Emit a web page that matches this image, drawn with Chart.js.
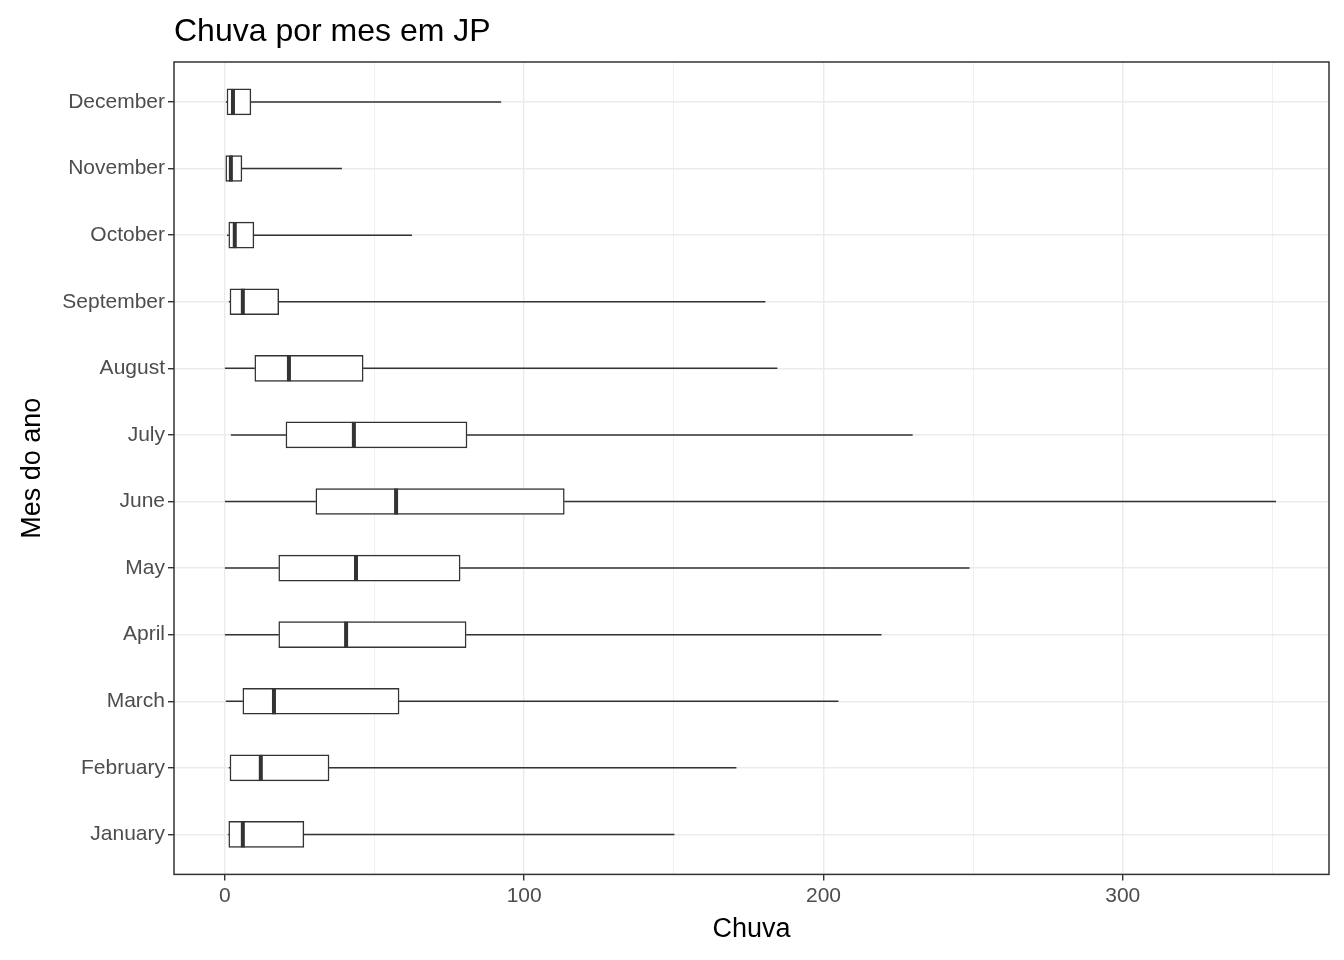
<!DOCTYPE html>
<html><head><meta charset="utf-8">
<script src="https://cdn.jsdelivr.net/npm/chart.js@4"></script>
<style>html,body{margin:0;background:#fff}#wrap{width:1344px;height:960px}</style>
</head><body><div id="wrap"><canvas id="c"></canvas></div>
<script>
// meses de baixo para cima (January embaixo)
const months = ['January','February','March','April','May','June','July','August','September','October','November','December'];
const mins    = [1, 1.3, 0.3, 0, 0, 0, 2, 0, 1.3, 0.7, 0.3, 0.3];
const q1s     = [1.3, 1.7, 6, 18, 18, 30.4, 20.4, 10, 1.7, 1.3, 0.3, 0.7];
const medians = [6, 12, 16.4, 40.5, 43.8, 57.2, 43.1, 21.4, 6, 3.3, 2, 2.7];
const q3s     = [26.4, 34.8, 58.2, 80.6, 78.6, 113.4, 80.9, 46.2, 18, 9.7, 5.7, 8.7];
const maxs    = [150.2, 170.9, 205, 219.4, 248.8, 351.2, 229.8, 184.6, 180.6, 62.5, 39.1, 92.3];
const chartTitle = 'Chuva por mes em JP';

const dark = '#333333';

const boxPlugin = {
  id: 'boxExtras',
  afterDatasetsDraw(chart) {
    const {ctx, scales: {x, y}, chartArea: a} = chart;
    ctx.save();
    ctx.strokeStyle = dark;
    months.forEach((m, i) => {
      const cy = y.getPixelForValue(i + 1);
      const half = 13;
      ctx.lineWidth = 1.5;
      ctx.beginPath();
      ctx.moveTo(x.getPixelForValue(mins[i]), cy); ctx.lineTo(x.getPixelForValue(q1s[i]), cy);
      ctx.moveTo(x.getPixelForValue(q3s[i]), cy); ctx.lineTo(x.getPixelForValue(maxs[i]), cy);
      ctx.stroke();
      ctx.lineWidth = 4;
      const mx = x.getPixelForValue(medians[i]);
      ctx.beginPath(); ctx.moveTo(mx, cy - half); ctx.lineTo(mx, cy + half); ctx.stroke();
    });
    ctx.lineWidth = 1.5;
    ctx.strokeRect(a.left, a.top, a.right - a.left, a.bottom - a.top);
    // titulo alinhado ao painel
    ctx.fillStyle = '#000';
    ctx.font = '32px "Liberation Sans"';
    ctx.textBaseline = 'alphabetic';
    ctx.fillText(chartTitle, a.left, 41);
    ctx.restore();
  }
};

new Chart(document.getElementById('c'), {
  type: 'bar',
  data: {
    datasets: [{
      data: months.map((m, i) => ({x: [q1s[i], q3s[i]], y: i + 1})),
      backgroundColor: '#ffffff',
      borderColor: dark,
      borderWidth: 1.5,
      borderSkipped: false,
      barThickness: 26
    }]
  },
  plugins: [boxPlugin],
  options: {
    indexAxis: 'y',
    responsive: true,
    maintainAspectRatio: false,
    animation: false,
    layout: {padding: {left: 12, right: 15, top: 62, bottom: 10}},
    plugins: {
      legend: {display: false},
      tooltip: {enabled: false},
      title: {display: false}
    },
    scales: {
      x: {
        type: 'linear', min: -17, max: 368.9,
        afterBuildTicks: s => { s.ticks = [0,50,100,150,200,250,300,350].map(v => ({value: v})); },
        ticks: {
          color: '#4d4d4d', font: {family: 'Liberation Sans', size: 21},
          callback: v => v % 100 === 0 ? v : ''
        },
        grid: {
          color: '#ebebeb',
          lineWidth: c => c.tick && c.tick.value % 100 === 0 ? 1.4 : 0.7,
          tickColor: c => c.tick && c.tick.value % 100 === 0 ? dark : 'rgba(0,0,0,0)',
          tickLength: 6
        },
        border: {display: false},
        title: {display: true, text: 'Chuva', color: '#000', font: {family: 'Liberation Sans', size: 27}, padding: {top: 2}}
      },
      y: {
        type: 'linear', min: 0.4, max: 12.6, offset: false,
        afterBuildTicks: s => { s.ticks = months.map((m, i) => ({value: i + 1})); },
        afterFit: s => { s.width = 162; },
        ticks: {
          color: '#4d4d4d', font: {family: 'Liberation Sans', size: 21},
          callback: v => months[v - 1]
        },
        grid: {color: '#ebebeb', lineWidth: 1.4, tickColor: dark, tickLength: 6, offset: false},
        border: {display: false},
        title: {display: true, text: 'Mes do ano', color: '#000', font: {family: 'Liberation Sans', size: 27}, padding: {bottom: 4}}
      }
    }
  }
});
</script></body></html>
